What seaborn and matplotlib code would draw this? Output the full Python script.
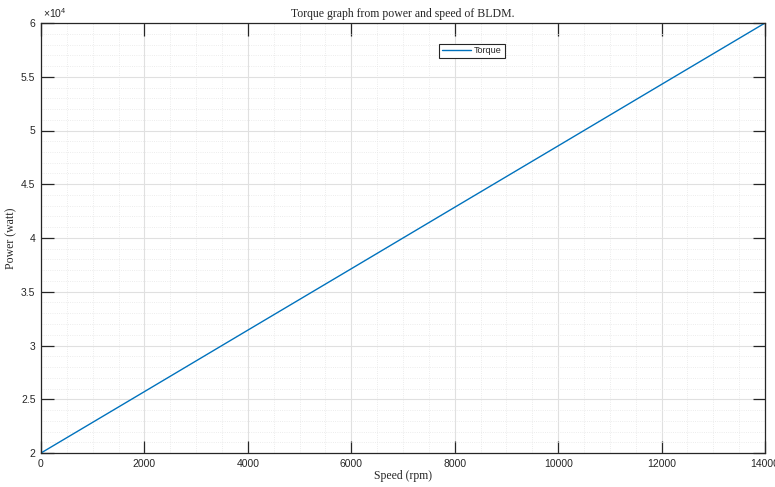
import numpy as np
import pandas as pd
import matplotlib
matplotlib.use("Agg")
import matplotlib.pyplot as plt
import seaborn as sns
from matplotlib.ticker import MultipleLocator, FuncFormatter

# data
speed_rpm = [0, 2000, 4000, 6000, 8000, 10000, 12000, 14000]
power_w = [20000, 25710, 31430, 37140, 42860, 48570, 54290, 60000]

sns.set_style("white")
plt.rcParams["font.family"] = ["Liberation Sans", "DejaVu Sans"]
plt.rcParams["mathtext.fontset"] = "custom"
plt.rcParams["mathtext.rm"] = "Liberation Sans"

df = pd.DataFrame({"speed": speed_rpm, "power": power_w})

fig = plt.figure(figsize=(7.75, 4.87), dpi=100)
ax = fig.add_axes([41 / 775, 1 - 453 / 487, 724 / 775, 430 / 487])

sns.lineplot(data=df, x="speed", y="power", ax=ax, color="#0072BD",
             linewidth=1.0, label="Torque")

ax.set_xlim(0, 14000)
ax.set_ylim(20000, 60000)
ax.xaxis.set_major_locator(MultipleLocator(2000))
ax.xaxis.set_minor_locator(MultipleLocator(500))
ax.yaxis.set_major_locator(MultipleLocator(5000))
ax.yaxis.set_minor_locator(MultipleLocator(1000))

# matlab style: plain values with a x10^4 exponent over the axis
ax.yaxis.set_major_formatter(FuncFormatter(lambda v, p: f"{v / 1e4:g}"))
ax.text(0.003, 1.008, r"$\times 10^4$", transform=ax.transAxes,
        fontsize=7.5, color="#262626", ha="left", va="bottom")

ax.grid(which="major", color="#e0e0e0", linewidth=0.8, linestyle="-")
ax.grid(which="minor", color="#e6e6e6", linewidth=0.6, linestyle=":")
ax.set_axisbelow(True)

ax.tick_params(which="major", direction="in", length=9, width=0.9,
               top=True, right=True, bottom=True, left=True,
               labelsize=7.5, colors="#262626", pad=4)
ax.tick_params(which="minor", length=0)
for s in ax.spines.values():
    s.set_color("#262626")
    s.set_linewidth(0.9)

serif = ["Liberation Serif", "DejaVu Serif"]
ax.set_title("Torque graph from power and speed of BLDM.", family=serif,
             fontsize=8.5, pad=4)
ax.set_xlabel("Speed (rpm)", family=serif, fontsize=8.5, labelpad=1)
ax.set_ylabel("Power (watt)", family=serif, fontsize=8.5)
ax.yaxis.set_label_coords(-0.033, 0.5)

leg = ax.legend(loc="center", bbox_to_anchor=(0.595, 0.935), fontsize=6.5,
                frameon=True, fancybox=False, framealpha=1,
                borderpad=0.3, handlelength=3.2, handletextpad=0.4)
leg.get_frame().set_edgecolor("#262626")
leg.get_frame().set_linewidth(0.8)

fig.savefig("out.png", dpi=100)
